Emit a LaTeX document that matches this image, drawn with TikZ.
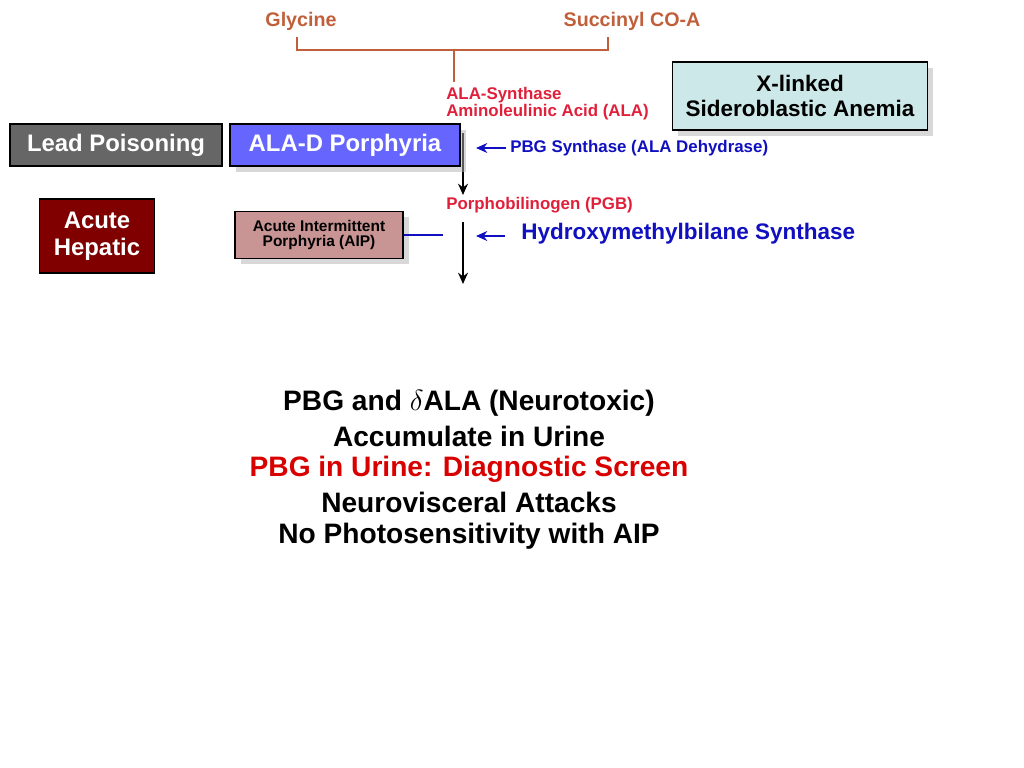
\documentclass[tikz,border=0pt]{standalone}
\usepackage{fontspec}
\setmainfont{Liberation Sans}
\usetikzlibrary{shadows,arrows.meta}
\definecolor{orangebrown}{HTML}{C0603A}
\definecolor{pathred}{HTML}{E0203A}
\definecolor{enzblue}{HTML}{1010C0}
\definecolor{xlcyan}{HTML}{CDE8E8}
\definecolor{aipred}{HTML}{C99494}
\tikzset{
  box/.style={draw=black, thick, align=center, font=\bfseries\fontsize{17}{19}\selectfont},
  shade/.style={drop shadow={shadow xshift=4pt, shadow yshift=-4pt, fill=gray!60}},
  pathstep/.style={text=pathred, font=\bfseries\fontsize{12}{11}\selectfont, anchor=west, inner sep=0pt, align=left},
  enz/.style={text=enzblue, font=\bfseries\fontsize{12}{13}\selectfont, anchor=west, inner sep=0pt},
  big/.style={font=\bfseries\fontsize{20}{22}\selectfont},
  flow/.style={-{Stealth[length=8pt,width=7pt]}, line width=1.8pt}
}
\begin{document}
\begin{tikzpicture}[x=0.025cm, y=-0.025cm]
  \useasboundingbox (0,0) rectangle (1024,768);

  % substrates
  \node[text=orangebrown, font=\bfseries\fontsize{14}{16}\selectfont] (gly) at (301,21) {Glycine};
  \node[text=orangebrown, font=\bfseries\fontsize{14}{16}\selectfont] (sca) at (632,21) {Succinyl CO-A};
  \coordinate (join) at (454,50);
  \coordinate (stem) at (454,82);
  \draw[orangebrown, line width=1.6pt] (297,37) -- (297,50) -- (608,50) -- (608,37);
  \draw[orangebrown, line width=1.6pt] (join) -- (stem);

  % pathway steps
  \node[pathstep] (ala) at (446,104) {ALA-Synthase\\Aminoleulinic Acid (ALA)};
  \node[pathstep] (pbg) at (446,205) {Porphobilinogen (PGB)};
  \coordinate (a1) at (463,133);
  \coordinate (a2) at (463,195);
  \coordinate (b1) at (463,222);
  \coordinate (b2) at (463,284);
  \draw[flow] (a1) -- (a2);
  \draw[flow] (b1) -- (b2);

  % enzymes
  \node[enz] (pbgs) at (510,148) {PBG Synthase (ALA Dehydrase)};
  \node[enz, font=\bfseries\fontsize{16}{18}\selectfont] (hmbs) at (521,234) {Hydroxymethylbilane Synthase};
  \coordinate (e1) at (476,148);
  \coordinate (e2) at (476,236);
  \draw[flow, enzblue, line width=1.4pt] (pbgs.west) ++(-4,0) -- (e1);
  \draw[flow, enzblue, line width=1.4pt] (505,236) -- (e2);

  % disorders
  \node[box, shade, fill=xlcyan, font=\bfseries\fontsize{16}{18}\selectfont, minimum width=255*0.025cm, minimum height=68*0.025cm] (xl) at (800,96) {X-linked\\Sideroblastic Anemia};
  \node[box, fill=gray!80!black, text=white, minimum height=42*0.025cm, minimum width=212*0.025cm, inner xsep=2pt] (lead) at (116,145) {Lead Poisoning};
  \node[box, shade, fill=blue!60, text=white, minimum height=42*0.025cm, minimum width=230*0.025cm, inner xsep=2pt] (alad) at (345,145) {ALA-D Porphyria};
  \node[box, fill=red!50!black, text=white, minimum height=74*0.025cm, minimum width=115*0.025cm] (hep) at (97,236) {Acute\\Hepatic};
  \node[box, shade, fill=aipred, font=\bfseries\fontsize{11}{11}\selectfont, minimum height=47*0.025cm, minimum width=168*0.025cm] (aip) at (319,235) {Acute Intermittent\\Porphyria (AIP)};
  \coordinate (aipend) at (443,235);
  \draw[enzblue, line width=1.4pt] (aip.east) -- (aipend);

  % notes
  \node[big] (n1) at (469,403) {PBG and $\delta$ALA (Neurotoxic)};
  \node[big] (n2) at (469,436) {Accumulate in Urine};
  \node[big, text=red!85!black] (n3) at (469,469) {PBG in Urine: Diagnostic Screen};
  \node[big] (n4) at (469,502) {Neurovisceral Attacks};
  \node[big] (n5) at (469,536) {No Photosensitivity with AIP};
\end{tikzpicture}
\end{document}
